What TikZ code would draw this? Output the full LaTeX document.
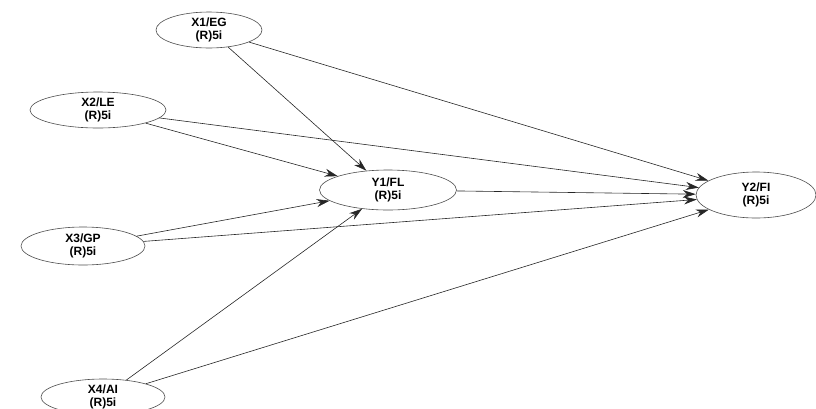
\documentclass[tikz,border=0pt]{standalone}
\usepackage{fontspec}
\setmainfont{Liberation Sans}
\usetikzlibrary{shapes.geometric,arrows.meta}
\begin{document}
\begin{tikzpicture}[x=1pt,y=-1pt,
  lv/.style={ellipse,draw=black!70,line width=0.6pt,inner sep=0pt,align=center,
    font=\fontsize{12}{12.5}\selectfont\bfseries},
  path/.style={draw=black!85,line width=0.6pt,-{Stealth[length=13pt,width=8pt]}}]
\useasboundingbox (0,0) rectangle (816,408);
\node[lv,minimum width=106pt,minimum height=36pt] (x1) at (209,30) {X1/EG\\(R)5i};
\node[lv,minimum width=136pt,minimum height=36pt] (x2) at (98,110) {X2/LE\\(R)5i};
\node[lv,minimum width=124pt,minimum height=38pt] (x3) at (83,246) {X3/GP\\(R)5i};
\node[lv,minimum width=124pt,minimum height=36pt] (x4) at (103,397) {X4/AI\\(R)5i};
\node[lv,minimum width=137pt,minimum height=40pt] (y1) at (388,190) {Y1/FL\\(R)5i};
\node[lv,minimum width=120pt,minimum height=46pt] (y2) at (756,195) {Y2/FI\\(R)5i};
\draw[path] (x1) -- (y1);
\draw[path] (x1) -- (y2);
\draw[path] (x2) -- (y1);
\draw[path] (x2) -- (y2);
\draw[path] (x3) -- (y1);
\draw[path] (x3) -- (y2);
\draw[path] (x4) -- (y1);
\draw[path] (x4) -- (y2);
\draw[path] (y1) -- (y2);
\end{tikzpicture}
\end{document}
